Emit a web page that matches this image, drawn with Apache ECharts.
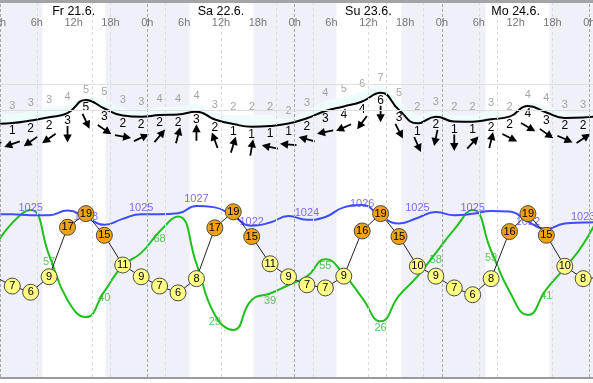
<!DOCTYPE html>
<html><head><meta charset="utf-8">
<script src="https://cdn.jsdelivr.net/npm/echarts/dist/echarts.min.js"></script>
<style>html,body{margin:0;padding:0;background:#fff}#c{width:593px;height:383px}</style>
</head><body><div id="c"></div>
<script>
// ---- data (hours since Fr 21.6. 0h) ----
const hours = [-1, 2, 5, 8, 11, 14, 17, 20, 23, 26, 29, 32, 35, 38, 41, 44, 47, 50, 53, 56, 59, 62, 65, 68, 71, 74, 77, 80, 83, 86, 89, 92, 95, 98];
const temperature = [8.8, 7.2, 6.2, 8.7, 16.7, 18.9, 15.4, 10.6, 8.7, 7.2, 6.1, 8.4, 16.6, 19.2, 15.2, 10.8, 8.7, 7.4, 6.9, 8.8, 16.1, 18.9, 15.2, 10.4, 8.8, 6.9, 5.8, 8.4, 16.0, 18.9, 15.4, 10.4, 8.4, 8.6];
const pressure = [1025.2, 1025.2, 1025.0, 1025.0, 1026.0, 1024.6, 1022.9, 1024.2, 1025.2, 1025.2, 1025.4, 1027.0, 1026.7, 1024.8, 1022.7, 1023.4, 1024.8, 1024.0, 1024.6, 1026.7, 1027.2, 1024.8, 1023.2, 1024.4, 1025.7, 1025.0, 1025.3, 1025.9, 1025.8, 1023.6, 1022.0, 1023.2, 1023.4, 1023.5];
const pressureLabelIdx = [2, 5, 8, 11, 14, 17, 20, 23, 26, 29, 32];
const pressureLabels = [1025, 1023, 1025, 1027, 1022, 1024, 1026, 1025, 1025, 1022, 1023];
const humidity = [60, 72, 78, 57, 36, 28, 40, 52, 58, 68, 75, 53, 29, 22, 36, 39, 43, 47, 55, 48, 37, 26, 38, 47, 58, 69, 78, 59, 40, 29, 41, 51, 62, 78];
const humidityLabelIdx = [3, 6, 9, 12, 15, 18, 21, 24, 27, 30];
const windSpeed = [7.4, 8.4, 11.1, 14.4, 18.9, 32.6, 23.7, 16.3, 15.0, 16.8, 17.4, 20.3, 12.1, 7.4, 4.5, 5.3, 7.9, 13.4, 21.1, 25.8, 31.1, 40.3, 22.1, 8.1, 15.1, 10.0, 9.8, 12.3, 15.1, 26.3, 19.5, 13.7, 14.2, 15.8];
const gustSpeed = [17.9, 17.9, 21.1, 24.2, 27.4, 34.7, 32.6, 24.2, 22.1, 25.3, 25.3, 28.4, 18.9, 16.8, 16.8, 16.8, 12.6, 21.1, 31.6, 35.8, 41.1, 47.4, 31.6, 16.8, 22.1, 16.8, 16.8, 21.1, 16.8, 29.5, 26.3, 18.9, 18.9, 18.9];
const windBft = [1, 1, 2, 2, 3, 5, 3, 2, 2, 2, 2, 3, 2, 1, 1, 1, 1, 2, 3, 4, 4, 6, 3, 1, 2, 1, 1, 2, 2, 4, 3, 2, 2, 2];
const gustBft = [3, 3, 3, 3, 4, 5, 5, 3, 3, 4, 4, 4, 3, 2, 2, 2, 2, 3, 4, 5, 6, 7, 5, 2, 3, 2, 2, 3, 2, 4, 4, 3, 3, 3];
const windFrom = [70, 70, 55, 55, 0, 335, 305, 280, 245, 220, 195, 180, 160, 197, 190, 102, 95, 106, 78, 66, 36, 0, 333, 336, 12, 0, 223, 193, 297, 300, 305, 294, 236, 236];
const days = ['Fr 21.6.', 'Sa 22.6.', 'Su 23.6.', 'Mo 24.6.'];
const dayHours = [12, 36, 60, 84];
const hourTicks = [0, 6, 12, 18, 24, 30, 36, 42, 48, 54, 60, 66, 72, 78, 84, 90, 96];
const nightStart = [-2, 17.2, 41.3, 65.4, 89.5];
const nightEnd = [6.9, 30.9, 54.8, 79.1, 100];
const midnights = [0, 24, 48, 72, 96];
const guideHours = [6, 15, 18, 27, 36, 45, 51, 60, 63, 69, 78, 81, 90];
const windRefLines = [22, 49];

// ---- layout ----
const FONT = 'Liberation Sans, Arial, sans-serif';
const GT = 3, GB = 377, XMAX = 96.6;
function calib(v1, p1, v2, p2) { const s = (v2 - v1) / (p2 - p1); return { min: v1 + (GB - p1) * s, max: v1 + (GT - p1) * s }; }
const axes = [calib(19, 213, 6, 293.5), calib(1027, 206, 1022, 229), calib(0, 377, 100, 163), calib(0, 131, 40, 93)];

const chart = echarts.init(document.getElementById('c'), null, { renderer: 'canvas' });
const pts = arr => hours.map((h, i) => [h, arr[i]]);
const topText = (arr, textOf, yPix, font, color) => ({
  type: 'custom', yAxisIndex: 3, z: 7, silent: true,
  data: arr.map(h => [h, 0]), encode: { x: 0, y: 1 },
  renderItem: (params, api) => {
    const x = api.coord([api.value(0), 0])[0];
    return { type: 'text', x: x, y: yPix, style: { text: textOf(api.value(0), params.dataIndex), fill: color, font: font, align: 'center', verticalAlign: 'middle' } };
  }
});

const option = {
  animation: false,
  backgroundColor: '#fff',
  grid: { left: 0, right: 0, top: GT, bottom: 383 - GB, outerBoundsMode: 'none' },
  xAxis: {
    type: 'value', min: 0, max: XMAX, interval: 6, position: 'top',
    axisLine: { show: false }, axisTick: { show: false }, splitLine: { show: false }, axisLabel: { show: false }
  },
  yAxis: axes.map(a => ({ type: 'value', show: false, min: a.min, max: a.max, splitLine: { show: false } })),
  series: [
    { type: 'line', yAxisIndex: 3, data: [], z: 0, silent: true,
      markArea: { silent: true, itemStyle: { color: '#f0f0f8' }, data: nightStart.map((s, i) => [{ xAxis: s }, { xAxis: nightEnd[i] }]) },
      markLine: { silent: true, symbol: ['none', 'none'], label: { show: false },
        data: [
          ...guideHours.map(h => ({ xAxis: h, lineStyle: { color: '#dcdcdc', type: [3, 3], width: 1 } })),
          ...midnights.map(h => ({ xAxis: h, lineStyle: { color: '#a8a8a8', type: [3, 2], width: 1 } })),
          ...windRefLines.map(v => ({ yAxis: v, lineStyle: { color: '#dedede', type: 'solid', width: 1 } }))
        ] } },
    // gust band between wind and gust speed
    { type: 'custom', yAxisIndex: 3, z: 1, silent: true,
      data: [[hours[0], windSpeed[0]]], encode: { x: 0, y: 1 },
      renderItem: (params, api) => {
        const top = hours.map((h, i) => api.coord([h, gustSpeed[i]]));
        const bot = hours.map((h, i) => api.coord([h, windSpeed[i]])).reverse();
        return { type: 'polygon', shape: { points: top.concat(bot), smooth: 0.35 }, style: { fill: '#eefcfc' } };
      } },
    { type: 'line', yAxisIndex: 3, smooth: 0.5, symbol: 'none', z: 3, lineStyle: { color: '#000', width: 2 }, data: pts(windSpeed) },
    { type: 'scatter', yAxisIndex: 3, symbolSize: 1, itemStyle: { color: 'rgba(0,0,0,0)' }, z: 3,
      data: pts(gustSpeed),
      label: { show: true, position: 'top', distance: 2, color: '#8e8e8e', fontSize: 11, fontFamily: FONT, formatter: p => String(gustBft[p.dataIndex]) } },
    { type: 'custom', yAxisIndex: 3, z: 4,
      data: hours.map((h, i) => [h, windSpeed[i], windFrom[i], windBft[i]]),
      encode: { x: 0, y: 1 },
      renderItem: (params, api) => {
        const p = api.coord([api.value(0), api.value(1)]);
        const b = (api.value(2) + 180) * Math.PI / 180;
        return { type: 'group', children: [
          { type: 'text', x: p[0], y: p[1] + 8, style: { text: String(api.value(3)), fill: '#000', font: '12px ' + FONT, align: 'center', verticalAlign: 'middle' } },
          { type: 'group', x: p[0], y: p[1] + 21, rotation: -b, children: [
            { type: 'line', shape: { x1: 0, y1: 8, x2: 0, y2: -2 }, style: { stroke: '#000', lineWidth: 1.8 } },
            { type: 'polygon', shape: { points: [[0, -8.5], [-4.2, -0.5], [4.2, -0.5]] }, style: { fill: '#000' } }
          ] }
        ] };
      } },
    { type: 'line', yAxisIndex: 2, smooth: 0.5, symbol: 'none', z: 2, lineStyle: { color: '#1ec01e', width: 2 }, data: pts(humidity) },
    { type: 'scatter', yAxisIndex: 2, symbolSize: 1, itemStyle: { color: 'rgba(0,0,0,0)' }, z: 2,
      data: humidityLabelIdx.map(i => [hours[i], humidity[i]]),
      label: { show: true, position: 'bottom', distance: 1, color: '#2db82d', fontSize: 11, fontFamily: FONT, formatter: p => String(p.value[1]) } },
    { type: 'line', yAxisIndex: 1, smooth: 0.5, symbol: 'none', z: 2, lineStyle: { color: '#3d4dff', width: 2 }, data: pts(pressure) },
    { type: 'scatter', yAxisIndex: 1, symbolSize: 1, itemStyle: { color: 'rgba(0,0,0,0)' }, z: 2,
      data: pressureLabelIdx.map((i, k) => [hours[i], pressureLabels[k]]),
      label: { show: true, position: 'top', distance: 1, color: '#5b48f2', fontSize: 11, fontFamily: FONT, formatter: p => String(p.value[1]) } },
    { type: 'line', yAxisIndex: 0, z: 6, symbol: 'circle', symbolSize: 16, showSymbol: true,
      lineStyle: { color: '#222', width: 1 },
      data: hours.map((h, i) => ({ value: [h, temperature[i]], itemStyle: { color: temperature[i] >= 14.5 ? '#f2a20f' : '#ffff84', borderColor: '#4a4a4a', borderWidth: 1 } })),
      label: { show: true, position: 'inside', color: '#000', fontSize: 11, fontFamily: FONT, formatter: p => String(Math.round(p.value[1])) } },
    topText(dayHours, (h, i) => days[i], 12, '12.5px ' + FONT, '#000'),
    topText(hourTicks, h => (h % 24) + 'h', 23, '11px ' + FONT, '#777')
  ],
  graphic: [
    { type: 'rect', left: 0, top: 0, shape: { width: 593, height: 3 }, style: { fill: '#a4a4a4' }, silent: true },
    { type: 'rect', left: 0, top: GB, shape: { width: 593, height: 2 }, style: { fill: '#9a9a9a' }, silent: true }
  ]
};
chart.setOption(option);
</script>
</body></html>
